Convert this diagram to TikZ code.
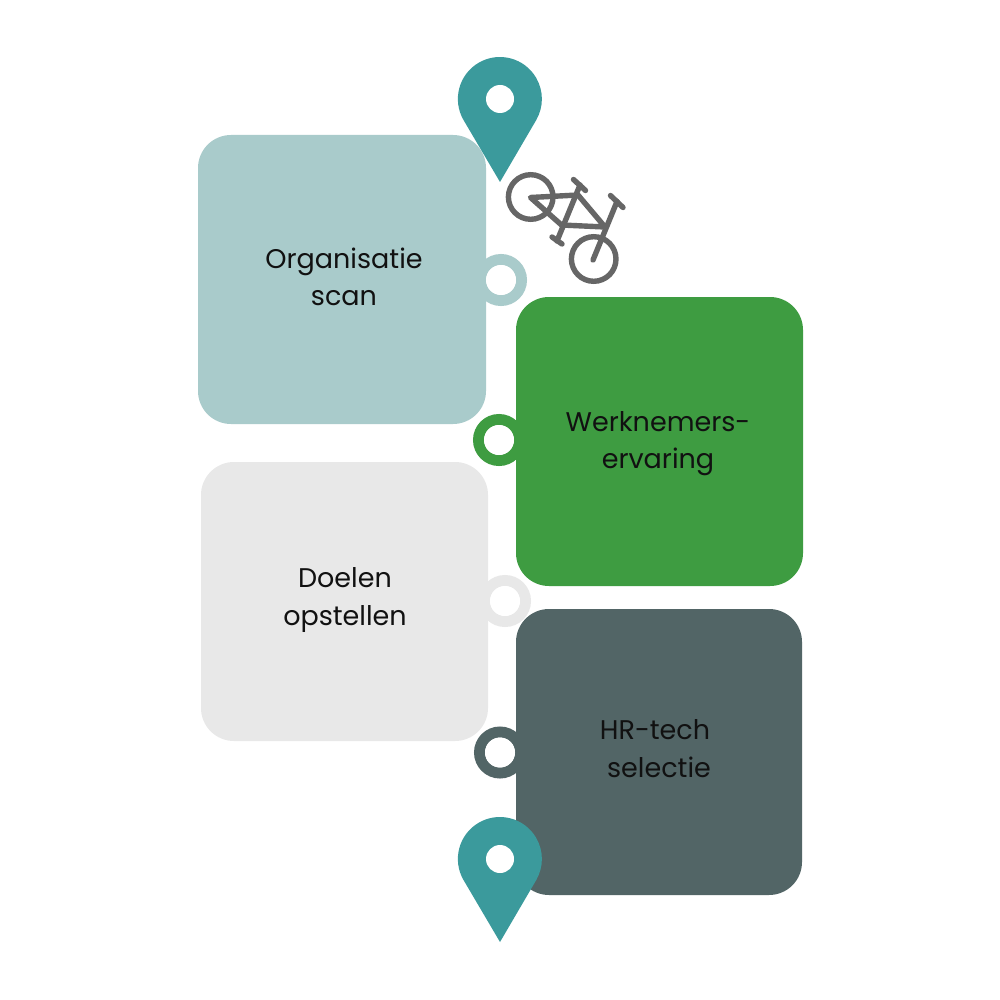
\documentclass[tikz,border=0pt]{standalone}
\usepackage{fontspec}
\setmainfont{Poppins}
\definecolor{cardA}{HTML}{A9CBCB}
\definecolor{cardB}{HTML}{3E9C41}
\definecolor{cardC}{HTML}{E8E8E8}
\definecolor{cardD}{HTML}{526566}
\definecolor{pinteal}{HTML}{3B9A9C}
\definecolor{bikegrey}{HTML}{666666}
\definecolor{inkdark}{HTML}{111111}
\tikzset{
  card/.style={rounded corners=33pt,inner sep=0pt,outer sep=0pt},
  label/.style={font=\fontsize{27}{37.5}\selectfont,align=center,text=inkdark},
  ringnode/.style={circle,fill=white,draw=#1,line width=11pt,minimum size=41pt,inner sep=0pt},
  holenode/.style={circle,fill=white,minimum size=30pt,inner sep=0pt},
  pinhole/.style={circle,fill=white,minimum size=28pt,inner sep=0pt},
  bikeline/.style={draw=bikegrey,line width=5.4pt,line cap=round,line join=round},
  wheel/.style={circle,draw=bikegrey,fill=none,line width=5.4pt,minimum size=44.6pt,inner sep=0pt}
}
\newcommand{\pinshape}[2]{%
  \fill[pinteal] (#1-36.5,#2+21) arc[start angle=150,end angle=390,radius=42] -- (#1,#2+83) -- cycle;
}
\begin{document}
\begin{tikzpicture}[x=1pt,y=-1pt]
\useasboundingbox (0,0) rectangle (1000,1000);
\fill[white] (0,0) rectangle (1000,1000);
% rings
\node[ringnode=cardA] (ringA) at (501,280) {};
\node[ringnode=cardC] (ringC) at (505,601) {};
\node[ringnode=cardB] (ringB) at (499,440) {};
\node[ringnode=cardD] (ringD) at (500,752.5) {};
% cards
\fill[cardA,card] (198,135) rectangle (486,424);
\fill[cardB,card] (516,297) rectangle (803,586);
\fill[cardC,card] (201,462) rectangle (488,741);
\fill[cardD,card] (516,609) rectangle (802,895);
\node[holenode] (holeA) at (501,280) {};
\node[holenode] (holeC) at (505,601) {};
\node[holenode] (holeB) at (499,440) {};
\node[holenode] (holeD) at (500,752.5) {};
% labels
\node[label] (tA) at (344,277) {Organisatie\\scan};
\node[label] (tB) at (658,443.5) {Werknemers-\\ervaring};
\node[label] (tC) at (345,600) {Doelen\\opstellen};
\node[label] (tD) at (655,748.5) {HR-tech\\\hspace*{8pt}selectie};
% pins
\pinshape{500}{99}
\node[pinhole] (pinTop) at (500,99) {};
\pinshape{500}{859}
\node[pinhole] (pinBottom) at (500,859) {};
% bicycle
\node[wheel] (rearWheel) at (530.7,197) {};
\node[wheel] (frontWheel) at (593.7,259) {};
\coordinate (hub) at (530.5,197.5);
\coordinate (seatjoin) at (578,195);
\coordinate (crank) at (561.5,225);
\coordinate (headjoin) at (605,227);
\path[bikeline,fill=none] (hub) -- (seatjoin) -- (headjoin) -- (crank) -- cycle;
\draw[bikeline] (580,185) -- (557,241);
\draw[bikeline] (573.5,179.5) -- (585.5,190.5);
\draw[bikeline] (610.5,195.5) -- (623,207.5);
\draw[bikeline] (617,201.5) -- (593,260);
\draw[bikeline] (552,237) -- (562,244);
\end{tikzpicture}
\end{document}
